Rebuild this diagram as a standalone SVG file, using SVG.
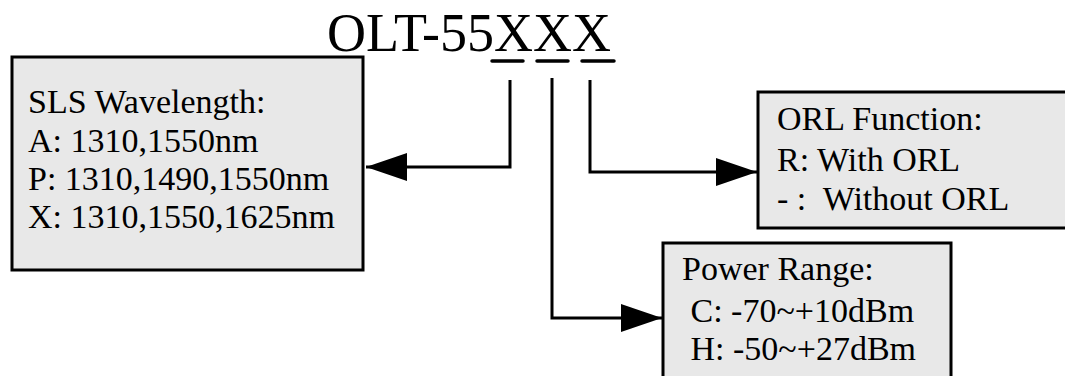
<svg xmlns="http://www.w3.org/2000/svg" width="1065" height="376" viewBox="0 0 1065 376">
<style>
.box{fill:#e8e8e8;stroke:#000;stroke-width:3}
.t{font-family:"Liberation Serif","Times New Roman",serif;font-size:34px;fill:#000;white-space:pre}
.title{font-family:"Liberation Serif","Times New Roman",serif;font-size:54px;fill:#000}
.ln{fill:none;stroke:#000;stroke-width:3}
.ul{stroke:#000;stroke-width:3.5;stroke-linecap:round}
</style>
<defs>
<marker id="ah" markerWidth="42" markerHeight="28" refX="41" refY="14" orient="auto" markerUnits="userSpaceOnUse">
<path d="M0,0 L41,14 L0,28 Z" fill="#000"/>
</marker>
</defs>
<rect width="1065" height="376" fill="#fff"/>
<g id="title">
<text class="title" x="327" y="51">OLT-55XXX</text>
<line class="ul" x1="492" y1="61" x2="523" y2="61"/>
<line class="ul" x1="537" y1="61" x2="568" y2="61"/>
<line class="ul" x1="582" y1="61" x2="614" y2="61"/>
</g>
<g id="wavelength">
<rect class="box" x="12" y="57" width="351" height="213"/>
<text class="t" x="28" y="113">SLS Wavelength:</text>
<text class="t" x="28" y="152">A: 1310,1550nm</text>
<text class="t" x="28" y="190">P: 1310,1490,1550nm</text>
<text class="t" x="28" y="228">X: 1310,1550,1625nm</text>
</g>
<g id="orl">
<rect class="box" x="758" y="92" width="320" height="136"/>
<text class="t" x="777" y="130">ORL Function:</text>
<text class="t" x="777" y="171">R: With ORL</text>
<text class="t" x="777" y="210">- :  Without ORL</text>
</g>
<g id="power">
<rect class="box" x="663" y="243" width="288" height="145"/>
<text class="t" x="682" y="280">Power Range:</text>
<text class="t" x="682" y="322"> C: -70~+10dBm</text>
<text class="t" x="682" y="360"> H: -50~+27dBm</text>
</g>
<g id="connectors">
<polyline class="ln" points="510,80 510,167 366,167" marker-end="url(#ah)"/>
<polyline class="ln" points="552,78 552,318 662,318" marker-end="url(#ah)"/>
<polyline class="ln" points="590,80 590,172 757,172" marker-end="url(#ah)"/>
</g>
</svg>
